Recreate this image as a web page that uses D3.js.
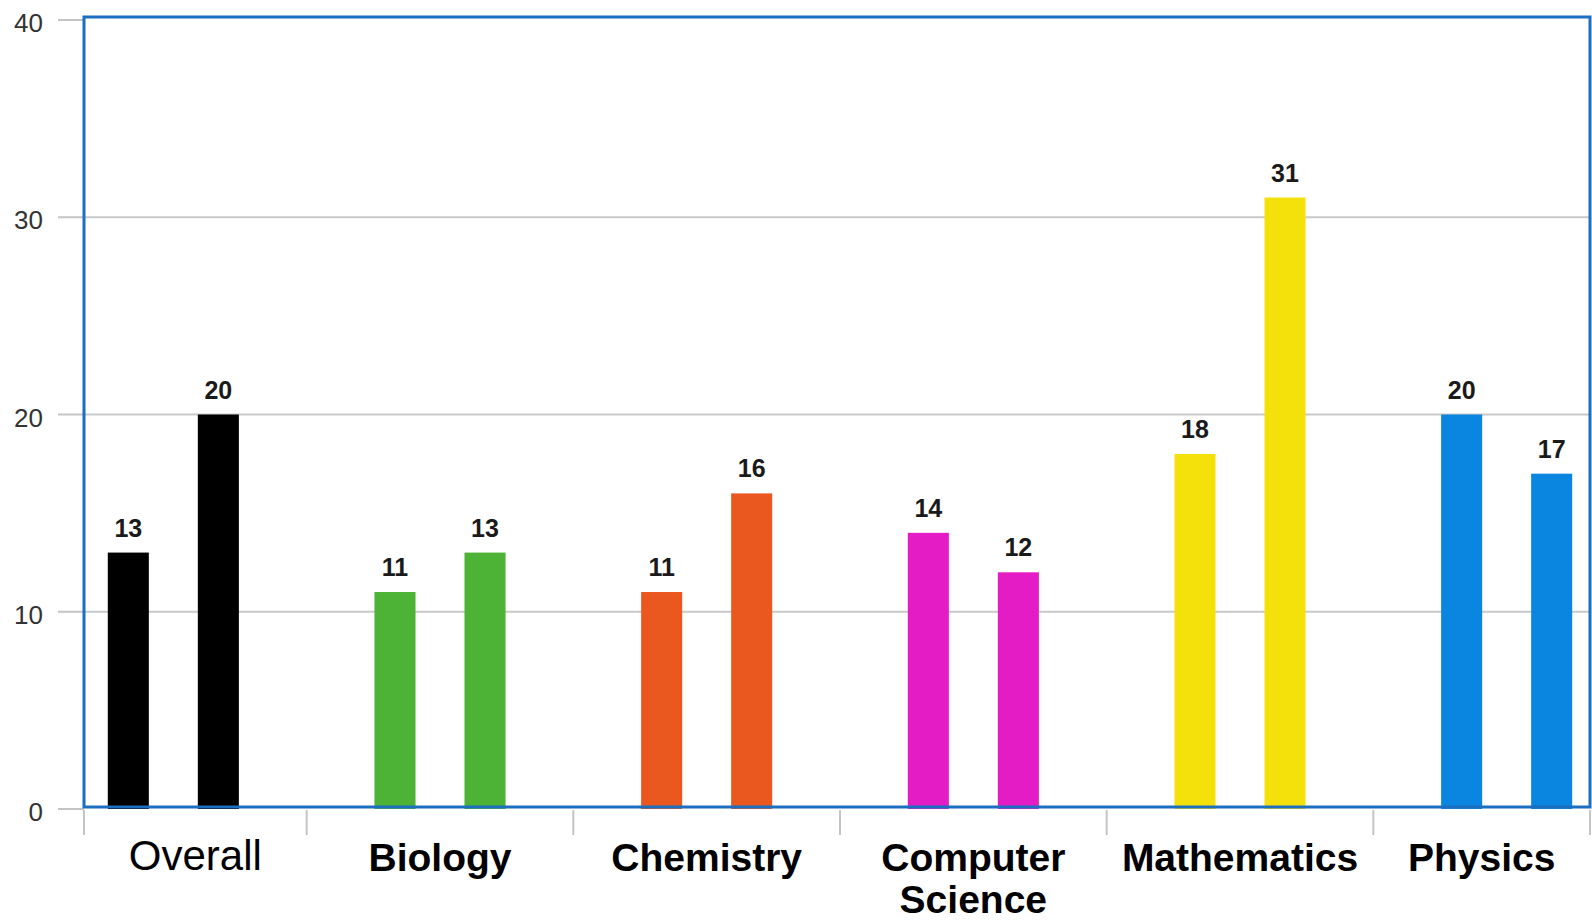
<!DOCTYPE html>
<html>
<head>
<meta charset="utf-8">
<script src="https://cdn.jsdelivr.net/npm/d3@7/dist/d3.min.js"></script>
<style>
  html, body { margin: 0; padding: 0; background: #fff; }
  svg { display: block; }
  text { font-family: "Liberation Sans", Arial, sans-serif; }
</style>
</head>
<body>
<svg id="chart" width="1592" height="922"></svg>
<script>
// ---- data ----
const categories = ["Overall", "Biology", "Chemistry", "Computer Science", "Mathematics", "Physics"];
const categoryLines = [["Overall"], ["Biology"], ["Chemistry"], ["Computer", "Science"], ["Mathematics"], ["Physics"]];
const firstValues = [13, 11, 11, 14, 18, 20];
const secondValues = [20, 13, 16, 12, 31, 17];
const colors = ["#000000", "#4db337", "#ea581f", "#e41cc6", "#f4e10b", "#0a86e0"];
const yTicks = [0, 10, 20, 30, 40];

// ---- layout ----
const svg = d3.select("#chart");
const plot = { left: 84, right: 1590, top: 17, bottom: 807 };

const x0 = d3.scaleBand().domain(categories).range([40, 1640]).paddingInner(0).paddingOuter(0);
const x1 = d3.scaleBand().domain([0, 1]).range([0, x0.bandwidth()]).paddingInner(0.544).paddingOuter(0.753);
const y = d3.scaleLinear().domain([0, 40]).range([809, 20]);

// gridlines + y ticks
const grid = svg.append("g");
grid.selectAll("line.grid").data(yTicks.filter(d => d > 0 && d < 40)).join("line")
  .attr("x1", plot.left).attr("x2", plot.right)
  .attr("y1", d => y(d)).attr("y2", d => y(d))
  .attr("stroke", "#c9c9c9").attr("stroke-width", 2);
grid.selectAll("line.tick").data(yTicks).join("line")
  .attr("x1", 58).attr("x2", plot.left)
  .attr("y1", d => y(d)).attr("y2", d => y(d))
  .attr("stroke", "#c4c4c4").attr("stroke-width", 2);
grid.selectAll("text").data(yTicks).join("text")
  .attr("x", 43).attr("y", d => y(d) + 3)
  .attr("dy", "0.35em")
  .attr("text-anchor", "end")
  .attr("font-size", 26).attr("fill", "#333")
  .text(d => d);

// bars
const rows = categories.map((c, i) => ({ c, i, vals: [firstValues[i], secondValues[i]] }));
const groups = svg.append("g").selectAll("g").data(rows).join("g")
  .attr("transform", d => `translate(${x0(d.c)},0)`);
groups.selectAll("rect").data(d => d.vals.map((v, k) => ({ v, k, i: d.i }))).join("rect")
  .attr("x", d => x1(d.k))
  .attr("width", x1.bandwidth())
  .attr("y", d => y(d.v))
  .attr("height", d => y(0) - y(d.v))
  .attr("fill", d => colors[d.i]);
groups.selectAll("text").data(d => d.vals.map((v, k) => ({ v, k }))).join("text")
  .attr("x", d => x1(d.k) + x1.bandwidth() / 2)
  .attr("y", d => y(d.v) - 16)
  .attr("text-anchor", "middle")
  .attr("font-size", 25).attr("font-weight", "bold").attr("fill", "#1a1a1a")
  .text(d => d.v);

// plot border
svg.append("rect")
  .attr("x", plot.left).attr("y", plot.top)
  .attr("width", plot.right - plot.left).attr("height", plot.bottom - plot.top)
  .attr("fill", "none").attr("stroke", "#1c6fc0").attr("stroke-width", 3);

// x axis ticks at band boundaries
const bounds = [plot.left].concat(categories.slice(1).map(c => x0(c))).concat([plot.right]);
svg.append("g").selectAll("line").data(bounds).join("line")
  .attr("x1", d => d).attr("x2", d => d)
  .attr("y1", 810).attr("y2", 835)
  .attr("stroke", "#c4c4c4").attr("stroke-width", 2);

// category labels
const labels = svg.append("g").selectAll("text").data(categories).join("text")
  .attr("x", c => {
    const a = Math.max(x0(c), plot.left), b = Math.min(x0(c) + x0.bandwidth(), plot.right);
    return (a + b) / 2;
  })
  .attr("y", (c, i) => i === 0 ? 870 : 871)
  .attr("text-anchor", "middle")
  .attr("fill", "#000")
  .attr("font-size", (c, i) => i === 0 ? 42 : 39)
  .attr("font-weight", (c, i) => i === 0 ? "normal" : "bold");
labels.each(function(c, i) {
  const t = d3.select(this);
  const xx = t.attr("x");
  categoryLines[i].forEach((line, k) => {
    t.append("tspan").attr("x", xx).attr("dy", k === 0 ? 0 : 42).text(line);
  });
});
</script>
</body>
</html>
